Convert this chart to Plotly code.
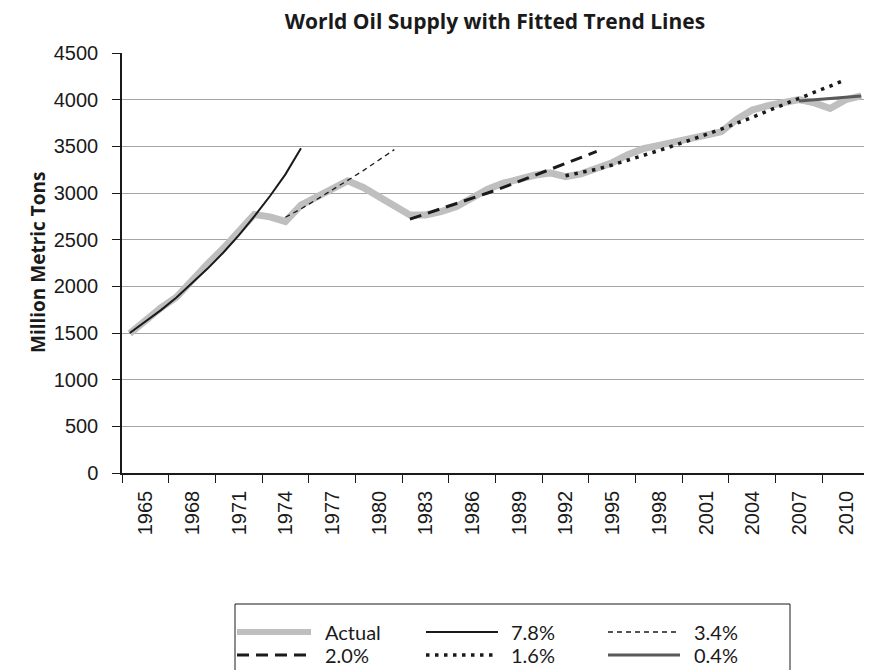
import plotly.graph_objects as go

# world oil supply, million metric tons
years = list(range(1965, 2013))
actual = [1495, 1640, 1770, 1885, 2070, 2240, 2405, 2580, 2770, 2745,
          2695, 2870, 2955, 3035, 3130, 3060, 2960, 2860, 2765, 2765,
          2800, 2855, 2945, 3040, 3105, 3155, 3190, 3215, 3175, 3205,
          3265, 3325, 3410, 3475, 3510, 3545, 3575, 3610, 3655, 3790,
          3890, 3935, 3975, 4000, 3965, 3905, 4000, 4040]

# fitted trend lines (each over its own span of years)
years_78 = list(range(1965, 1977))
trend_78 = [1500, 1620, 1745, 1880, 2030, 2190, 2360, 2545, 2750, 2965, 3200, 3480]

years_34 = list(range(1975, 1983))
trend_34 = [2740, 2830, 2930, 3030, 3135, 3240, 3350, 3465]

years_20 = list(range(1983, 1996))
trend_20 = [2720, 2775, 2830, 2885, 2945, 3000, 3060, 3125, 3185, 3250, 3315, 3380, 3445]

years_16 = list(range(1993, 2012))
trend_16 = [3185, 3220, 3255, 3300, 3350, 3400, 3455, 3510, 3565, 3625,
            3685, 3745, 3810, 3880, 3950, 4015, 4080, 4145, 4215]

years_04 = list(range(2008, 2013))
trend_04 = [3985, 3998, 4012, 4026, 4040]

label_years = list(range(1965, 2011, 3))
y_ticks = list(range(0, 4501, 500))

# series styles (shared with the hand-drawn legend below)
styles = [
    ("Actual", years, actual, dict(color="#bfbfbf", width=7)),
    ("7.8%", years_78, trend_78, dict(color="#1a1a1a", width=2)),
    ("3.4%", years_34, trend_34, dict(color="#1a1a1a", width=1.3, dash="5px,4px")),
    ("2.0%", years_20, trend_20, dict(color="#1a1a1a", width=3, dash="12px,7px")),
    ("1.6%", years_16, trend_16, dict(color="#1a1a1a", width=3.5, dash="3.5px,5.5px")),
    ("0.4%", years_04, trend_04, dict(color="#595959", width=3)),
]

fig = go.Figure()
for name, xs, ys, line in styles:
    fig.add_trace(go.Scatter(x=xs, y=ys, name=name, mode="lines", line=line,
                             showlegend=False))

# page has an 8px body margin, so the figure is 8px smaller than the window
W, H = 864, 662
L, T, PW, PH = 114, 45, 747, 420


def px(x):  # window x -> paper x
    return (x - 8 - L) / PW


def py(y):  # window y -> paper y
    return (T + PH - (y - 8)) / PH


# legend box: three columns, two rows, bottom edge runs off the page
shapes = [dict(type="rect", xref="paper", yref="paper",
               x0=px(235), x1=px(790), y0=py(604), y1=py(720),
               line=dict(color="#1a1a1a", width=1), fillcolor="rgba(0,0,0,0)")]
annotations = []
col_x = [(237, 311, 323), (426, 498, 509), (608, 680, 692)]
row_y = [632, 655]
for i, (name, _, _, line) in enumerate(styles):
    x0, x1, xt = col_x[i % 3]
    yy = row_y[i // 3]
    leg_line = dict(line)
    if name == "Actual":
        leg_line["width"] = 6
    shapes.append(dict(type="line", xref="paper", yref="paper",
                       x0=px(x0), x1=px(x1), y0=py(yy), y1=py(yy), line=leg_line))
    annotations.append(dict(text=name, xref="paper", yref="paper",
                            x=px(xt), y=py(yy), xanchor="left", yanchor="middle",
                            showarrow=False,
                            font=dict(family="Lato", size=20, color="#1a1a1a")))

annotations.append(dict(text="<b>Million Metric Tons</b>", xref="paper", yref="paper",
                        x=px(38), y=py(262), xanchor="center", yanchor="middle",
                        textangle=-90, showarrow=False,
                        font=dict(family="Open Sans", size=19, color="#1a1a1a")))

fig.update_layout(
    width=W, height=H,
    margin=dict(l=L, r=W - L - PW, t=T, b=H - T - PH),
    plot_bgcolor="white", paper_bgcolor="white",
    font=dict(family="Liberation Sans, Arial", size=20, color="#1a1a1a"),
    title=dict(text="<b>World Oil Supply with Fitted Trend Lines</b>",
               x=487 / W, xanchor="center", y=1 - 14 / H, yanchor="middle",
               font=dict(family="Open Sans", size=21, color="#1a1a1a")),
    showlegend=False,
    shapes=shapes,
    annotations=annotations,
)

fig.update_xaxes(
    range=[1964.5, 2012.5], showgrid=False, zeroline=False,
    showline=True, linecolor="#1a1a1a", linewidth=1.5,
    tickmode="array", tickvals=label_years, ticktext=[str(y) for y in label_years],
    ticks="", tickangle=-90, ticklabelshift=16, ticklabelstandoff=8,
    minor=dict(tickmode="linear", tick0=1964.5, dtick=3, ticks="outside",
               ticklen=8, tickcolor="#1a1a1a", tickwidth=1.2, showgrid=False),
)
fig.update_yaxes(
    range=[0, 4500], tickmode="array", tickvals=y_ticks,
    showgrid=True, gridcolor="#a6a6a6", gridwidth=1, zeroline=False,
    showline=True, linecolor="#1a1a1a", linewidth=1.5,
    ticks="outside", ticklen=8, tickcolor="#1a1a1a", tickwidth=1.2,
    ticklabelstandoff=10,
)

fig.write_html("out.html")
